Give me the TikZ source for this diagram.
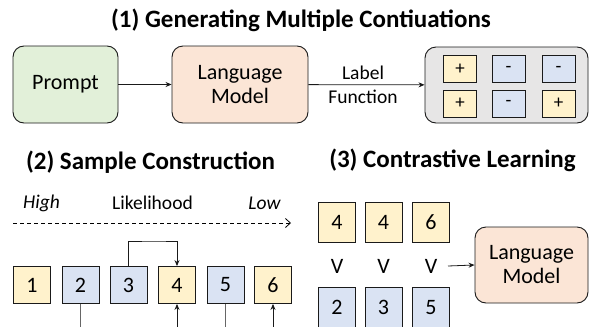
\documentclass[tikz,border=0pt]{standalone}
\usepackage{fontspec}
\setmainfont{Carlito}
\usetikzlibrary{arrows.meta}
\definecolor{fgreen}{HTML}{E2F0D9}
\definecolor{forange}{HTML}{FBE5D6}
\definecolor{fyellow}{HTML}{FFF2CC}
\definecolor{fblue}{HTML}{DAE3F3}
\definecolor{fgray}{HTML}{E7E6E6}
\definecolor{edge}{HTML}{1A1A1A}
\tikzset{
  rbox/.style={draw=edge, line width=0.9pt, rounded corners=11pt, inner sep=0pt, align=center,
    font=\fontsize{22}{25}\selectfont},
  sq/.style={draw=edge, line width=0.9pt, inner sep=0pt, font=\fontsize{22}{25}\selectfont},
  ysq/.style={sq, fill=fyellow},
  bsq/.style={sq, fill=fblue},
  small/.style={draw=edge, line width=0.8pt, inner sep=0pt, minimum width=33pt, minimum height=27pt,
    font=\fontsize{19}{22}\selectfont},
  ttl/.style={font=\fontsize{25}{30}\selectfont\bfseries, inner sep=0pt},
  lbl/.style={font=\fontsize{19.5}{24}\selectfont, inner sep=0pt, align=center},
  arr/.style={-{Stealth[length=6pt,width=5pt]}, line width=0.8pt, draw=edge},
  down/.style={line width=0.9pt, draw=black!60},
}
\begin{document}
\begin{tikzpicture}[x=1pt,y=-1pt]
\clip (0,0) rectangle (590,327);
\useasboundingbox (0,0) rectangle (590,327);
\fill[white] (0,0) rectangle (590,327);

% ---------- (1)
\node[ttl] (t1) at (301,20) {(1) Generating Multiple Contiuations};
\node[rbox, fill=fgreen, minimum width=105pt, minimum height=77pt] (prompt) at (65.5,84.5) {Prompt};
\node[rbox, fill=forange, minimum width=136pt, minimum height=77pt] (lm1) at (240,84.5) {Language\\[-1pt]Model};
\node[rbox, fill=fgray, minimum width=163pt, minimum height=76pt] (gray) at (506.5,85) {};
\node[small, fill=fyellow] (s11) at (460,69) {+};
\node[small, fill=fblue] (s12) at (508.5,69) {-};
\node[small, fill=fblue] (s13) at (558.5,69) {-};
\node[small, fill=fyellow] (s21) at (460,103.5) {+};
\node[small, fill=fblue] (s22) at (508.5,103.5) {-};
\node[small, fill=fyellow] (s23) at (558.5,103.5) {+};
\draw[arr] (prompt) -- (lm1);
\draw[arr] (lm1) -- node[lbl, pos=0.47] {Label\\Function} (gray);

% ---------- (2)
\node[ttl] (t2) at (150.5,162) {(2) Sample Construction};
\node[lbl, font=\fontsize{19.5}{24}\selectfont\itshape] (high) at (41.5,203) {High};
\node[lbl] (likel) at (152.5,203) {Likelihood};
\node[lbl, font=\fontsize{19.5}{24}\selectfont\itshape] (low) at (264.5,203) {Low};
\coordinate (dA) at (13,223);
\coordinate (dB) at (291,223);
\draw[line width=0.8pt, dash pattern=on 4pt off 3pt, -{Straight Barb[length=5pt,width=9pt]}] (dA) -- (dB);

\node[ysq, minimum width=37pt, minimum height=37pt] (b1) at (32,285) {1};
\node[bsq, minimum width=37pt, minimum height=37pt] (b2) at (80.5,285) {2};
\node[bsq, minimum width=37pt, minimum height=37pt] (b3) at (128.5,285) {3};
\node[ysq, minimum width=37pt, minimum height=37pt] (b4) at (177,285) {4};
\node[bsq, minimum width=37pt, minimum height=37pt] (b5) at (225.5,285) {5};
\node[ysq, minimum width=37pt, minimum height=37pt] (b6) at (273,285) {6};

\draw[arr] (b3.north) |- (155,241) -| (b4.north);
\coordinate (e2) at (80.5,335);
\coordinate (e4) at (177,335);
\coordinate (e5) at (225.5,335);
\coordinate (e6) at (273,335);
\draw[down] (b2.south) -- (e2);
\draw[arr] (e4) -- (b4.south);
\draw[down] (b5.south) -- (e5);
\draw[arr] (e6) -- (b6.south);

% ---------- (3)
\node[ttl] (t3) at (452.5,160) {(3) Contrastive Learning};
\node[ysq, minimum width=37pt, minimum height=40pt] (c1) at (337,222.5) {4};
\node[ysq, minimum width=37pt, minimum height=40pt] (c2) at (383.5,222.5) {4};
\node[ysq, minimum width=37pt, minimum height=40pt] (c3) at (431,222.5) {6};
\node[font=\fontsize{22}{25}\selectfont, inner sep=0pt] (v1) at (337,266) {V};
\node[font=\fontsize{22}{25}\selectfont, inner sep=0pt] (v2) at (383.5,266) {V};
\node[font=\fontsize{22}{25}\selectfont, inner sep=0pt] (v3) at (431,266) {V};
\node[bsq, minimum width=37pt, minimum height=40pt] (d1) at (337,307.5) {2};
\node[bsq, minimum width=37pt, minimum height=40pt] (d2) at (383.5,307.5) {3};
\node[bsq, minimum width=37pt, minimum height=40pt] (d3) at (431,307.5) {5};
\node[rbox, fill=forange, minimum width=113pt, minimum height=76pt] (lm2) at (531.5,265) {Language\\[-1pt]Model};
\coordinate (va) at (448,266);
\draw[arr] (va) -- (lm2.west);
\end{tikzpicture}
\end{document}
